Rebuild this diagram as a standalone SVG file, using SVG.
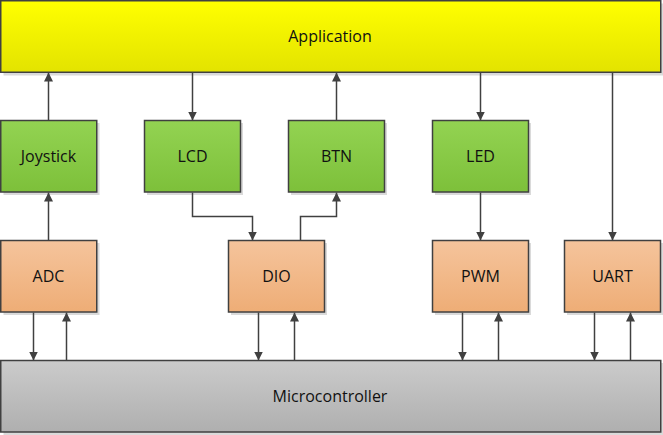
<svg xmlns="http://www.w3.org/2000/svg" width="663" height="435" viewBox="0 0 663 435">
<defs>
<linearGradient id="gY" x1="0" y1="0" x2="0" y2="1"><stop offset="0" stop-color="#FFFF00"/><stop offset="1" stop-color="#E3E300"/></linearGradient>
<linearGradient id="gG" x1="0" y1="0" x2="0" y2="1"><stop offset="0" stop-color="#93D352"/><stop offset="1" stop-color="#7DC03A"/></linearGradient>
<linearGradient id="gO" x1="0" y1="0" x2="0" y2="1"><stop offset="0" stop-color="#F5C49C"/><stop offset="1" stop-color="#EEAD76"/></linearGradient>
<linearGradient id="gS" x1="0" y1="0" x2="0" y2="1"><stop offset="0" stop-color="#CBCBCB"/><stop offset="1" stop-color="#AFAFAF"/></linearGradient>
<marker id="ah" viewBox="0 0 10 10" refX="10" refY="5" markerWidth="9" markerHeight="9" markerUnits="userSpaceOnUse" orient="auto"><path d="M0,0 L10,5 L0,10 z" fill="#404040"/></marker>
</defs>
<style>
.box{stroke:#404040;stroke-width:1.5}
.sh{fill:#DADADA}
.t{font-family:"Open Sans","Noto Sans",sans-serif;font-size:16px;fill:#111;text-anchor:middle;dominant-baseline:central}
.c{fill:none;stroke:#404040;stroke-width:1.5;marker-end:url(#ah)}
</style>
<g id="application"><rect class="sh" x="3.5" y="3.5" width="660" height="72"/><rect class="box" x="0.75" y="0.75" width="660" height="71.5" fill="url(#gY)"/><text class="t" x="330" y="36">Application</text></g>
<g id="joystick"><rect class="sh" x="3.5" y="123" width="96" height="72"/><rect class="box" x="0.75" y="120.5" width="96" height="71.5" fill="url(#gG)"/><text class="t" x="48.5" y="156">Joystick</text></g>
<g id="lcd"><rect class="sh" x="147" y="123" width="96" height="72"/><rect class="box" x="144.5" y="120.5" width="96" height="71.5" fill="url(#gG)"/><text class="t" x="192.5" y="156">LCD</text></g>
<g id="btn"><rect class="sh" x="291" y="123" width="96" height="72"/><rect class="box" x="288.5" y="120.5" width="96" height="71.5" fill="url(#gG)"/><text class="t" x="336.5" y="156">BTN</text></g>
<g id="led"><rect class="sh" x="435" y="123" width="96" height="72"/><rect class="box" x="432.5" y="120.5" width="96" height="71.5" fill="url(#gG)"/><text class="t" x="480.5" y="156">LED</text></g>
<g id="adc"><rect class="sh" x="3.5" y="243" width="96" height="72"/><rect class="box" x="0.75" y="240.5" width="96" height="71.5" fill="url(#gO)"/><text class="t" x="48.5" y="276">ADC</text></g>
<g id="dio"><rect class="sh" x="231" y="243" width="96" height="72"/><rect class="box" x="228.5" y="240.5" width="96" height="71.5" fill="url(#gO)"/><text class="t" x="276.5" y="276">DIO</text></g>
<g id="pwm"><rect class="sh" x="435" y="243" width="96" height="72"/><rect class="box" x="432.5" y="240.5" width="96" height="71.5" fill="url(#gO)"/><text class="t" x="480.5" y="276">PWM</text></g>
<g id="uart"><rect class="sh" x="567" y="243" width="96" height="72"/><rect class="box" x="564.5" y="240.5" width="96" height="71.5" fill="url(#gO)"/><text class="t" x="612.5" y="276">UART</text></g>
<g id="microcontroller"><rect class="sh" x="3.5" y="363" width="660" height="72"/><rect class="box" x="0.75" y="360.5" width="660" height="71.5" fill="url(#gS)"/><text class="t" x="330" y="396">Microcontroller</text></g>
<g id="connectors">
<path class="c" d="M48.5,120.5 V72.5"/>
<path class="c" d="M192.5,72.5 V120.5"/>
<path class="c" d="M336.5,120.5 V72.5"/>
<path class="c" d="M480.5,72.5 V120.5"/>
<path class="c" d="M612.5,72.5 V240.5"/>
<path class="c" d="M48.5,240.5 V192.5"/>
<path class="c" d="M192.5,192.5 V216.5 H252.5 V240.5"/>
<path class="c" d="M300.5,240.5 V216.5 H336.5 V192.5"/>
<path class="c" d="M480.5,192.5 V240.5"/>
<path class="c" d="M33.5,312.5 V360.5"/>
<path class="c" d="M66.5,360.5 V312.5"/>
<path class="c" d="M258.5,312.5 V360.5"/>
<path class="c" d="M294.5,360.5 V312.5"/>
<path class="c" d="M462.5,312.5 V360.5"/>
<path class="c" d="M498.5,360.5 V312.5"/>
<path class="c" d="M594.5,312.5 V360.5"/>
<path class="c" d="M630.5,360.5 V312.5"/>
</g>
</svg>
